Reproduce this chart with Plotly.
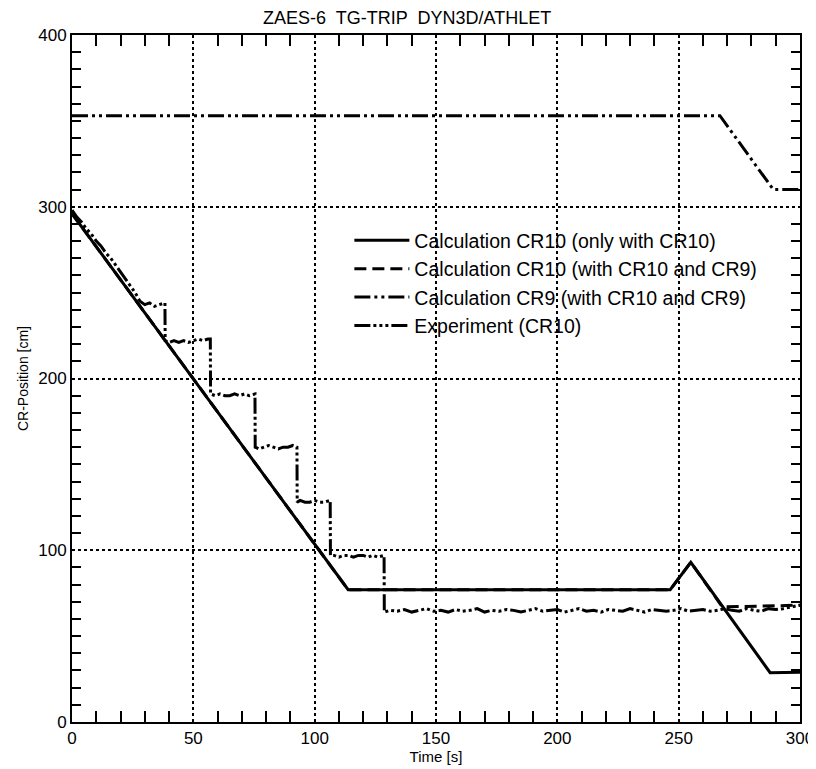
import plotly.graph_objects as go

# ---- data ----
calc_only_t = [0, 113.8, 246.5, 255, 287.7, 300]
calc_only_y = [296, 77, 77, 93, 28.7, 29]

calc_both_t = [0, 113.8, 246.5, 255, 268, 300]
calc_both_y = [296, 77, 77, 93, 67, 68]

cr9_t = [0, 267, 289, 300]
cr9_y = [353, 353, 310, 310]

exp_t = (
    [0, 2, 4, 6, 8, 10, 12, 14, 16, 18, 20, 22, 24, 26, 28]
    + [30, 32, 34, 36, 38.3]
    + [38.4, 40, 42, 44, 46, 48, 50, 52, 54, 56, 57.0]
    + [57.1, 59, 61, 63, 65, 67, 69, 71, 73, 75.4]
    + [75.5, 77, 79, 81, 83, 85, 87, 89, 91, 92.7]
    + [92.8, 94, 96, 98, 100, 102, 104, 106.4]
    + [106.5, 108, 110, 112, 114, 116, 118, 120, 122, 124, 126, 128.6]
    + [128.7, 131, 134, 137, 140, 143, 146, 149, 152, 155, 158, 161, 164, 167,
       170, 173, 176, 179, 182, 185, 188, 191, 194, 197, 200, 203, 206, 209,
       212, 215, 218, 221, 224, 227, 230, 233, 236, 239, 242, 245, 248, 251,
       254, 257, 260, 263, 266, 269, 272, 275, 278, 281, 284, 287, 290, 293,
       296, 300]
)
exp_y = (
    [298, 294, 291, 287, 284, 280, 277, 273, 270, 266, 262, 258, 254, 250, 245]
    + [243, 244, 242, 243, 244]
    + [222, 221, 222, 221, 222, 221, 222, 223, 222, 223, 223]
    + [191, 190, 191, 190, 190, 191, 190, 191, 190, 191]
    + [160, 159, 160, 161, 160, 159, 160, 160, 161, 160]
    + [128, 129, 128, 128, 129, 128, 128, 129]
    + [97, 97, 96, 97, 97, 96, 97, 97, 96, 97, 96, 97]
    + [64, 65, 64.5, 65.5, 64, 65, 66, 64.5, 65, 64, 65.5, 64.5, 65, 66,
       64, 65, 64.5, 65.5, 65, 64, 65, 66, 64.5, 65, 65.5, 64, 65, 66,
       64.5, 65, 64, 65.5, 65, 64.5, 66, 65, 64, 65.5, 65, 64.5, 65, 66,
       64.5, 65, 65.5, 64.5, 65, 66, 65, 64.5, 66, 65, 64.5, 66, 65.5, 66,
       67, 68]
)

x_tick_step = 50
y_tick_step = 100

FONT = "Liberation Sans, Arial, sans-serif"

fig = go.Figure()
fig.add_trace(go.Scatter(x=calc_only_t, y=calc_only_y, mode="lines",
                         name="Calculation CR10 (only with CR10)",
                         line=dict(color="black", width=3, dash="solid")))
fig.add_trace(go.Scatter(x=calc_both_t, y=calc_both_y, mode="lines",
                         name="Calculation CR10 (with CR10 and CR9)",
                         line=dict(color="black", width=3, dash="12px,6px")))
fig.add_trace(go.Scatter(x=cr9_t, y=cr9_y, mode="lines",
                         name="Calculation CR9 (with CR10 and CR9)",
                         line=dict(color="black", width=3,
                                   dash="16px,4px,3px,4px,3px,4px")))
fig.add_trace(go.Scatter(x=exp_t, y=exp_y, mode="lines",
                         name="Experiment (CR10)",
                         line=dict(color="black", width=3,
                                   dash="16px,3px,3px,3px,3px,3px,3px,3px")))

fig.update_layout(
    width=808, height=761,
    paper_bgcolor="white", plot_bgcolor="white",
    margin=dict(l=64, r=16, t=27, b=47, autoexpand=False),
    font=dict(family=FONT, color="black", size=16),
    title=dict(text="ZAES-6  TG-TRIP  DYN3D/ATHLET", x=0.494, xanchor="center",
               y=0.995, yanchor="top", font=dict(size=18, family=FONT)),
    showlegend=True,
    legend=dict(x=0.381, y=0.729, xanchor="left", yanchor="top",
                bgcolor="rgba(0,0,0,0)", borderwidth=0,
                font=dict(size=19.5, family=FONT), itemwidth=55,
                tracegroupgap=0),
)
fig.update_xaxes(range=[0, 300], tickmode="linear", tick0=0, dtick=x_tick_step,
                 ticks="inside", ticklen=0, automargin=False,
                 showline=True, linecolor="black", linewidth=2, mirror="allticks",
                 showgrid=True, gridcolor="black", griddash="dot", gridwidth=1.5,
                 zeroline=False, tickfont=dict(size=17),
                 title=dict(text="Time [s]", font=dict(size=15), standoff=0),
                 minor=dict(tick0=0, dtick=10, ticks="inside", ticklen=11,
                            tickcolor="black", tickwidth=1.5, showgrid=False))
fig.update_yaxes(range=[0, 400], tickmode="linear", tick0=0, dtick=y_tick_step,
                 ticks="inside", ticklen=0, automargin=False,
                 showline=True, linecolor="black", linewidth=2, mirror="allticks",
                 showgrid=True, gridcolor="black", griddash="dot", gridwidth=1.5,
                 zeroline=False, tickfont=dict(size=17),
                 title=dict(text="CR-Position [cm]", font=dict(size=14), standoff=6),
                 minor=dict(tick0=0, dtick=10, ticks="inside", ticklen=9,
                            tickcolor="black", tickwidth=1.5, showgrid=False))

fig.write_html("out.html")
